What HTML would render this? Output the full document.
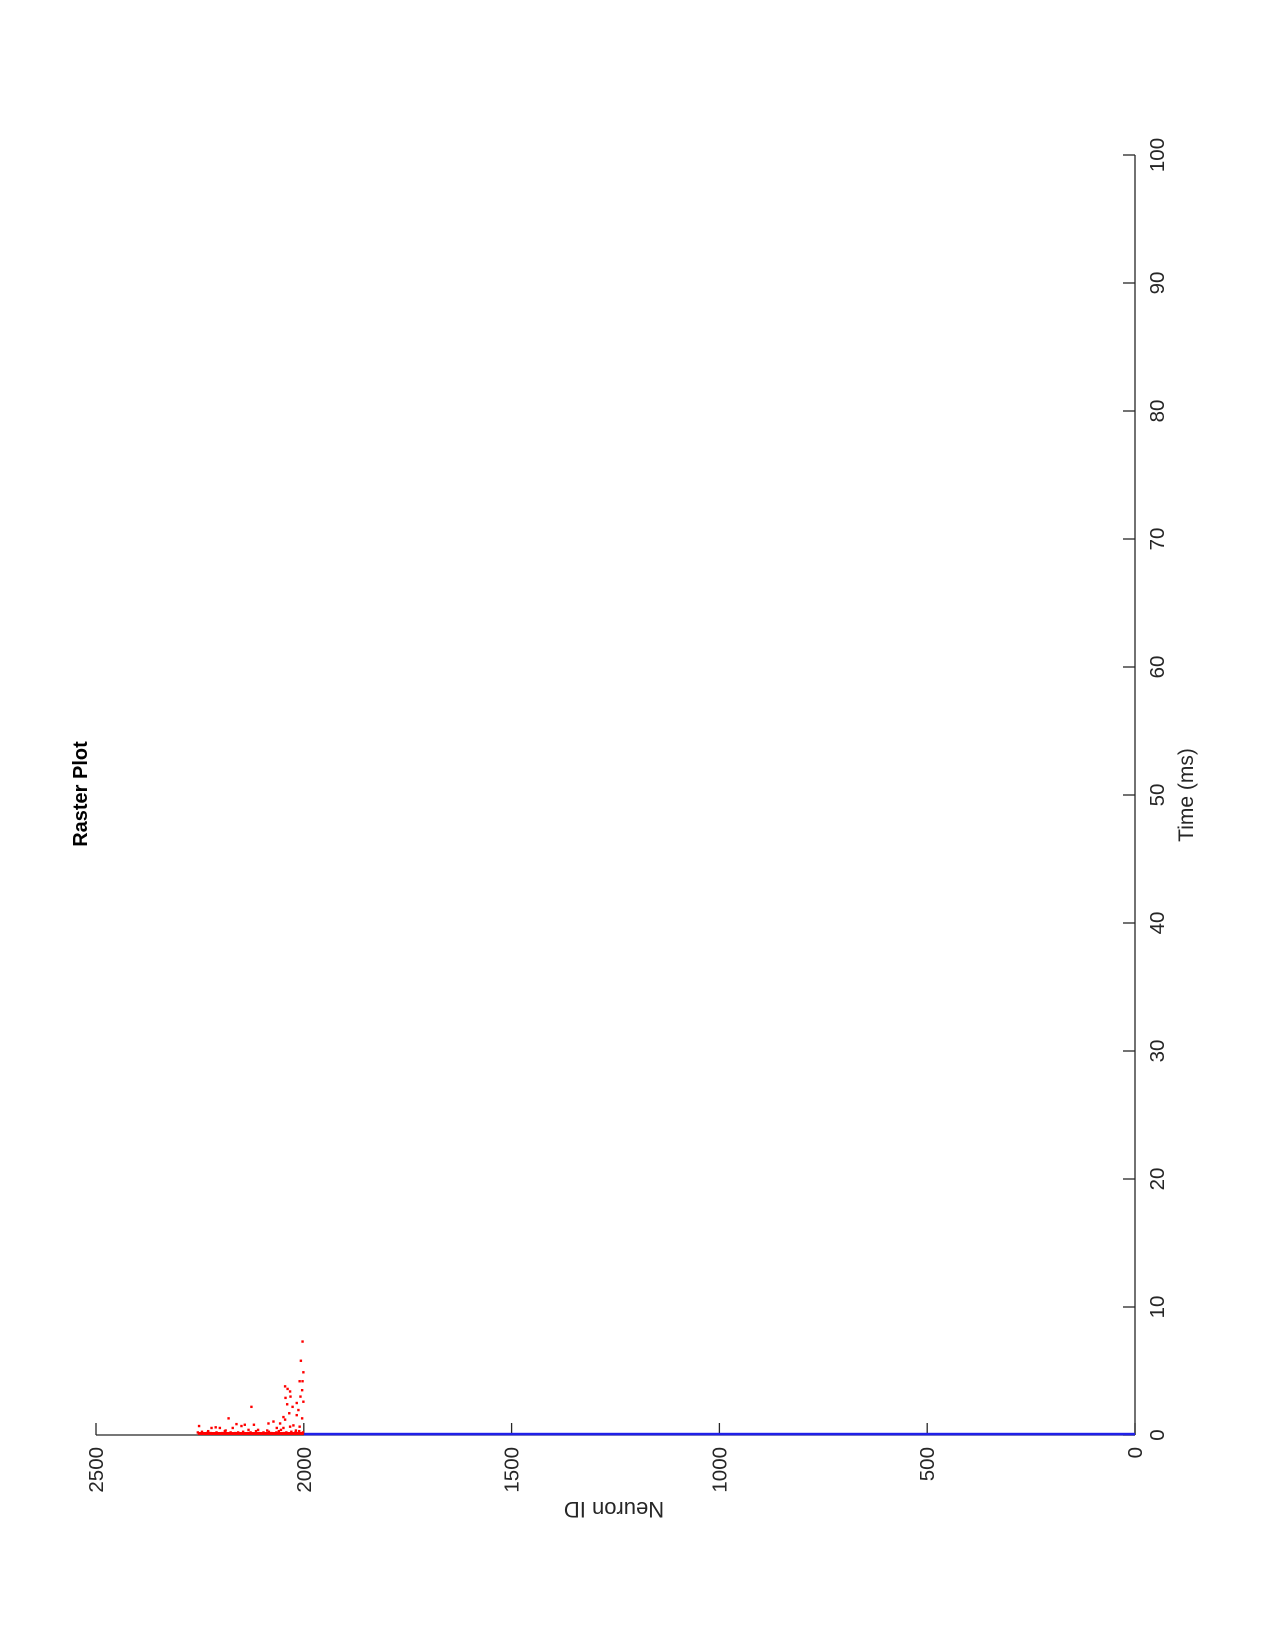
<!DOCTYPE html>
<html><head><meta charset="utf-8"><style>
html,body{margin:0;padding:0;background:#fff;}
svg{display:block;font-family:"Liberation Sans",Arial,sans-serif;}
</style></head><body>
<svg id="chart" width="1275" height="1650" viewBox="0 0 1275 1650" xmlns="http://www.w3.org/2000/svg">
<rect width="1275" height="1650" fill="#fff"/>
<g id="axes"></g>
<g id="marks"></g>
<text transform="translate(87,794) rotate(-90)" text-anchor="middle" font-size="20" font-weight="bold" fill="#000">Raster Plot</text>
<text transform="translate(1193,795) rotate(-90)" text-anchor="middle" font-size="21" fill="#262626">Time (ms)</text>
<text transform="translate(614,1502) rotate(180)" text-anchor="middle" font-size="22" fill="#262626">Neuron ID</text>
</svg>
<script>
const neuronTicks = [0, 500, 1000, 1500, 2000, 2500];
const timeTicks = [0, 10, 20, 30, 40, 50, 60, 70, 80, 90, 100];
const redNeurons = [2003,2007,2001,2003,2010,2045,2039,2033,2032,2044,2004,2008,2001,2017,2040,2027,2126,2013,2035,2049,2017,2004,2181,2045,2057,2073,2085,2033,2025,2010,2162,2150,2142,2171,2202,2212,2222,2252,2120,2110,2065,2049,
 2002,2006,2011,2015,2020,2024,2030,2036,2042,2048,2053,2060,2066,2071,2078,2084,2090,2097,2103,2108,2115,2122,2128,2134,2140,2146,2153,2158,2165,2170,2176,2183,2190,2196,2204,2210,2216,2224,2231,2238,2245,2251,2255,2019,2055,2088,2133,2188,2230];
const redTimes = [7.3,5.8,4.9,4.2,4.2,3.8,3.6,3.4,3.0,2.9,3.5,3.0,2.6,2.5,2.4,2.2,2.2,1.95,1.7,1.4,1.55,1.3,1.3,1.2,0.9,1.05,0.9,0.65,0.75,0.65,0.85,0.7,0.8,0.55,0.55,0.6,0.55,0.7,0.8,0.4,0.55,0.55,
 0.2,0.1,0.3,0.15,0.2,0.1,0.25,0.1,0.2,0.15,0.1,0.3,0.2,0.1,0.15,0.25,0.1,0.2,0.1,0.15,0.3,0.1,0.2,0.15,0.1,0.25,0.1,0.2,0.15,0.1,0.2,0.1,0.3,0.15,0.1,0.2,0.1,0.15,0.2,0.1,0.25,0.1,0.2,0.35,0.4,0.35,0.4,0.35,0.3];
const blueStart = [0];
const blueEnd = [2000];
const blueTime = [0];

const NS="http://www.w3.org/2000/svg";
const xN = n => 1135 - n*0.4156;
const yT = t => 1435 - t*12.8;
const axes=document.getElementById('axes'), marks=document.getElementById('marks');
function mk(tag, attrs, parent){const e=document.createElementNS(NS,tag);for(const k in attrs)e.setAttribute(k,attrs[k]);parent.appendChild(e);return e;}

let l=mk('line',{x1:xN(2500),y1:yT(0),x2:xN(0),y2:yT(0),stroke:'#262626','stroke-width':1.3},axes);


l=mk('line',{x1:xN(0),y1:yT(0),x2:xN(0),y2:yT(100),stroke:'#262626','stroke-width':1.3},axes);



neuronTicks.forEach(v=>{
  const t=mk('line',{x1:xN(v),y1:yT(0),x2:xN(v),y2:yT(0)-12,stroke:'#262626','stroke-width':1.3},axes);
  
  
  const tx=mk('text',{transform:`translate(${xN(v)+7},${yT(0)+12}) rotate(-90)`,'text-anchor':'end','font-size':20.5,fill:'#262626'},axes);
  tx.textContent=v;
  
  
});
timeTicks.forEach(v=>{
  const t=mk('line',{x1:xN(0),y1:yT(v),x2:xN(0)-12,y2:yT(v),stroke:'#262626','stroke-width':1.3},axes);
  
  
  const tx=mk('text',{transform:`translate(${xN(0)+29},${yT(v)}) rotate(-90)`,'text-anchor':'middle','font-size':20.5,fill:'#262626'},axes);
  tx.textContent=v;
  
  
});

blueStart.forEach((s,i)=>{
  const r=mk('rect',{x:xN(blueEnd[i]),y:yT(blueTime[i])-2.2,width:xN(s)-xN(blueEnd[i]),height:2.6,fill:'#2020e8'},marks);
  
  
});
redNeurons.forEach((n,i)=>{
  const c=mk('rect',{x:xN(n)-1.2,y:yT(redTimes[i])-1.2,width:2.4,height:2.4,fill:'#f00'},marks);
  
  
});
const band=mk('rect',{x:xN(2255),y:yT(0)-3,width:xN(2000)-xN(2255),height:3,fill:'#f00'},marks);


</script>
</body></html>
